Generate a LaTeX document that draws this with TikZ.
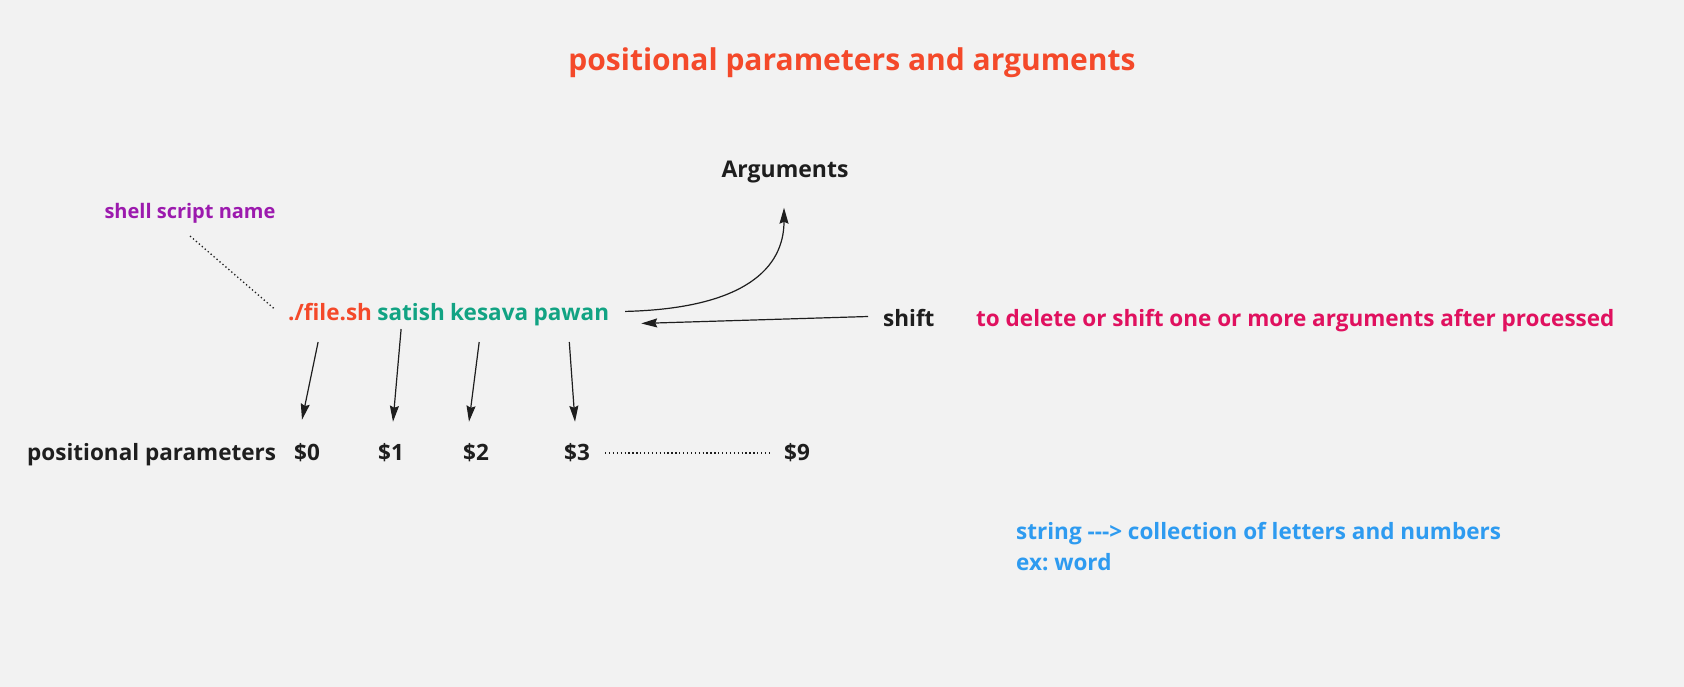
\documentclass[tikz,border=0pt]{standalone}
\usepackage{fontspec}
\setmainfont{Open Sans}[BoldFont={* Bold}]
\usetikzlibrary{positioning, calc, arrows.meta}

\definecolor{bgcol}{HTML}{F2F2F2}
\definecolor{inkcol}{HTML}{1E1E1E}
\definecolor{titlecol}{HTML}{F4492A}
\definecolor{argcol}{HTML}{12A383}
\definecolor{notecol}{HTML}{9C1AAE}
\definecolor{shiftcol}{HTML}{E0115F}
\definecolor{strcol}{HTML}{2E9BF0}

\frenchspacing
\begin{document}
\begin{tikzpicture}[
  x=1pt, y=-1pt,
  txt/.style={inner sep=0pt, anchor=base, font=\bfseries\fontsize{22.5}{31}\selectfont, text=inkcol},
  cmd/.style={txt, anchor=base west, text=titlecol},
  argw/.style={txt, anchor=base west, text=argcol},
  arr/.style={-{Stealth[length=16pt, width=9pt, inset=2pt]}, line width=1.2pt, draw=inkcol},
  dots/.style={line width=1.3pt, dash pattern=on 1.3pt off 2.6pt, draw=inkcol},
]
  \fill[bgcol] (0,0) rectangle (1684,687);
  \useasboundingbox (0,0) rectangle (1684,687);

  % --- Title ---
  \node[txt, text=titlecol, font=\bfseries\fontsize{30}{36}\selectfont] (title) at (852,71)
    {positional parameters and arguments};

  % --- Command line ---
  \node[cmd] (file) at (288,320) {./file.sh};
  \node[argw] (satish) at ([xshift=5pt]file.base east) {satish};
  \node[argw] (kesava) at ([xshift=5pt]satish.base east) {kesava};
  \node[argw] (pawan) at ([xshift=5pt]kesava.base east) {pawan};

  % --- Labels ---
  \node[txt, font=\bfseries\fontsize{23}{31}\selectfont] (args) at (785,178) {Arguments};
  \node[txt, text=notecol, font=\bfseries\fontsize{20}{24}\selectfont] (shell) at (190,219) {shell script name};
  \node[txt, anchor=base west] (shift) at (883,326) {shift};
  \node[txt, anchor=base west, text=shiftcol] (shiftnote) at (976,326)
    {to delete or shift one or more arguments after processed};

  % --- Positional parameters ---
  \node[txt, anchor=base west] (pos) at (27,460) {positional parameters};
  \node[txt] (d0) at (307,460) {\$0};
  \node[txt] (d1) at (391,460) {\$1};
  \node[txt] (d2) at (476,460) {\$2};
  \node[txt] (d3) at (577,460) {\$3};
  \node[txt] (d9) at (797,460) {\$9};

  % --- String note ---
  \node[txt, anchor=base west, text=strcol, align=left] (strnote) at (1016,570)
    {string {-}{-}{-}> collection of letters and numbers\\ex: word};

  % --- Connectors ---
  \draw[dots] ($(shell.south)+(0,12)$) -- ($(file.west)+(-14,-3)$);
  \draw[dots] ($(d3.east)+(15,1)$) -- ($(d9.west)+(-14,1)$);
  \draw[arr] ($(pawan.east)+(16,-5)$) .. controls +(120,-3) and +(0,60) .. ($(args.south)+(-1,24)$);
  \draw[arr] ($(shift.west)+(-15,-1)$) -- ($(pawan.east)+(32,7)$);
  \draw[arr] ($(file.base)+(-12,22)$) -- ($(d0.north)+(-5,-23)$);
  \draw[arr] ($(satish.base)+(-10,9)$) -- ($(d1.north)+(2,-21)$);
  \draw[arr] ($(kesava.base)+(-10,22)$) -- ($(d2.north)+(-7,-21)$);
  \draw[arr] ($(pawan.base)+(-2,22)$) -- ($(d3.north)+(-2,-21)$);
\end{tikzpicture}
\end{document}
